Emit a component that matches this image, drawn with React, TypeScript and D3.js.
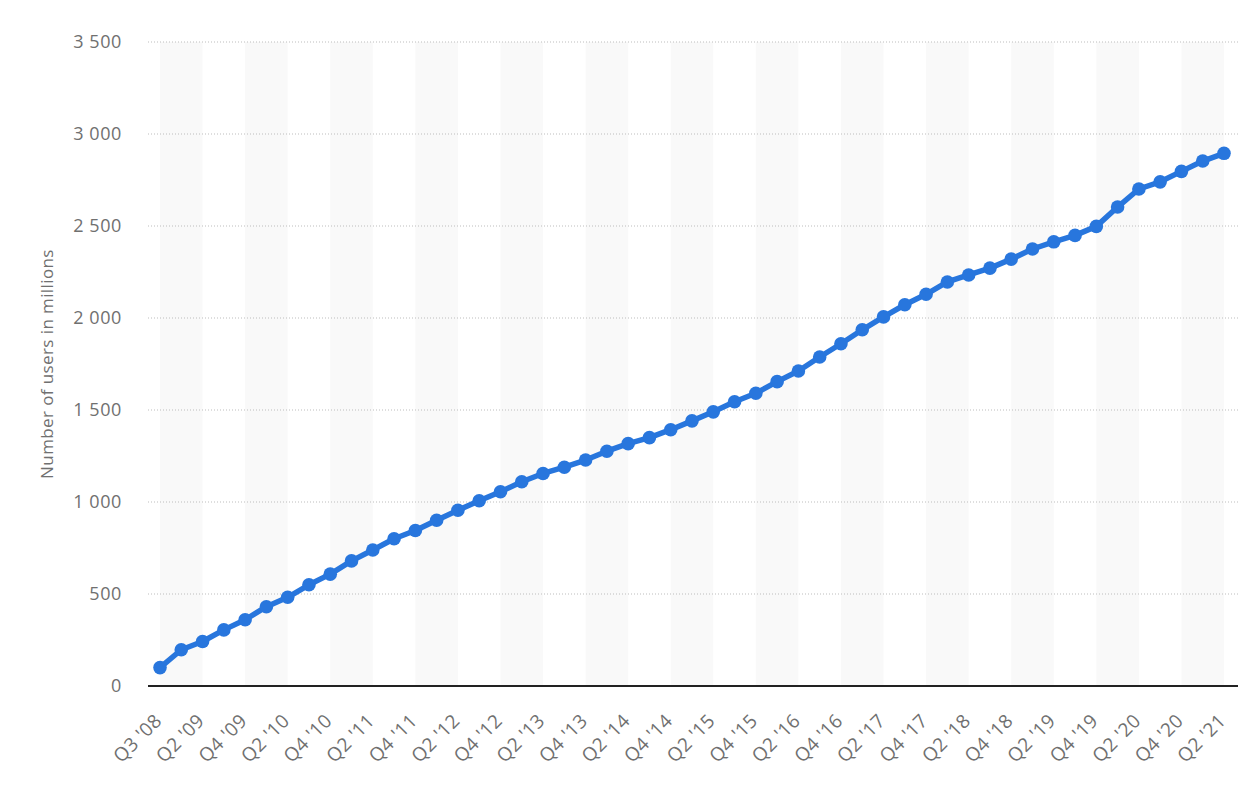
import React from "react";
import * as d3 from "d3";

const categories: string[] = [
  "Q3 '08", "Q1 '09", "Q2 '09", "Q3 '09", "Q4 '09",
  "Q1 '10", "Q2 '10", "Q3 '10", "Q4 '10",
  "Q1 '11", "Q2 '11", "Q3 '11", "Q4 '11",
  "Q1 '12", "Q2 '12", "Q3 '12", "Q4 '12",
  "Q1 '13", "Q2 '13", "Q3 '13", "Q4 '13",
  "Q1 '14", "Q2 '14", "Q3 '14", "Q4 '14",
  "Q1 '15", "Q2 '15", "Q3 '15", "Q4 '15",
  "Q1 '16", "Q2 '16", "Q3 '16", "Q4 '16",
  "Q1 '17", "Q2 '17", "Q3 '17", "Q4 '17",
  "Q1 '18", "Q2 '18", "Q3 '18", "Q4 '18",
  "Q1 '19", "Q2 '19", "Q3 '19", "Q4 '19",
  "Q1 '20", "Q2 '20", "Q3 '20", "Q4 '20",
  "Q1 '21", "Q2 '21",
];

const users: number[] = [
  100, 197, 242, 305, 360, 431, 482, 550, 608, 680,
  739, 800, 845, 901, 955, 1007, 1056, 1110, 1155, 1189,
  1228, 1276, 1317, 1350, 1393, 1441, 1490, 1545, 1591, 1654,
  1712, 1788, 1860, 1936, 2006, 2072, 2129, 2196, 2234, 2271,
  2320, 2375, 2414, 2449, 2498, 2603, 2701, 2740, 2797, 2853,
  2895,
];

const yTicks: number[] = [0, 500, 1000, 1500, 2000, 2500, 3000, 3500];
const yTitle = "Number of users in millions";

const W = 1255;
const H = 797;
const plotLeft = 148;
const plotRight = 1238;
const plotTop = 42;
const plotBottom = 686;
const FONT = "'Open Sans', sans-serif";
const TEXT = "#707070";

export default function App() {
  const x = d3
    .scalePoint<string>()
    .domain(categories)
    .range([160, 1224]);
  const y = d3.scaleLinear().domain([0, 3500]).range([plotBottom, plotTop]);

  const fmt = (v: number) => d3.format(",")(v).replace(/,/g, " ");

  const line = d3
    .line<number>()
    .x((_, i) => x(categories[i]) as number)
    .y((d) => y(d));

  const bands: { x0: number; x1: number }[] = [];
  for (let i = 0; i + 2 < categories.length; i += 4) {
    bands.push({
      x0: x(categories[i]) as number,
      x1: x(categories[i + 2]) as number,
    });
  }

  const labelIdx = categories.map((_, i) => i).filter((i) => i % 2 === 0);

  return (
    <svg
      width={W}
      height={H}
      style={{ position: "absolute", left: 0, top: 0, background: "#fff" }}
    >
      {bands.map((b, i) => (
        <rect
          key={i}
          x={b.x0}
          y={plotTop}
          width={b.x1 - b.x0}
          height={plotBottom - plotTop}
          fill="#f9f9f9"
        />
      ))}
      {yTicks
        .filter((t) => t > 0)
        .map((t) => (
          <line
            key={t}
            x1={plotLeft}
            x2={plotRight}
            y1={y(t)}
            y2={y(t)}
            stroke="#bdbdbd"
            strokeWidth={1}
            strokeDasharray="1 2"
          />
        ))}
      {yTicks.map((t) => (
        <text
          key={t}
          x={122}
          y={y(t)}
          dy="0.35em"
          textAnchor="end"
          fill={TEXT}
          fontFamily={FONT}
          fontSize={18}
          letterSpacing={0.6}
        >
          {fmt(t)}
        </text>
      ))}
      <text
        transform={`translate(53, ${(plotTop + plotBottom) / 2}) rotate(-90)`}
        textAnchor="middle"
        fill={TEXT}
        fontFamily={FONT}
        fontSize={17}
        letterSpacing={0.4}
      >
        {yTitle}
      </text>
      <line
        x1={plotLeft}
        x2={plotRight}
        y1={plotBottom}
        y2={plotBottom}
        stroke="#222"
        strokeWidth={2}
      />
      {labelIdx.map((i) => {
        const px = (x(categories[i]) as number) + 3;
        const py = 722;
        return (
          <text
            key={i}
            transform={`translate(${px}, ${py}) rotate(-45)`}
            textAnchor="end"
            fill={TEXT}
            fontFamily={FONT}
            fontSize={19}
            letterSpacing={0.4}
          >
            {categories[i]}
          </text>
        );
      })}
      <path
        d={line(users) || ""}
        fill="none"
        stroke="#2876dd"
        strokeWidth={5.5}
        strokeLinejoin="round"
      />
      {users.map((v, i) => (
        <circle
          key={i}
          cx={x(categories[i]) as number}
          cy={y(v)}
          r={6.8}
          fill="#2876dd"
        />
      ))}
    </svg>
  );
}
